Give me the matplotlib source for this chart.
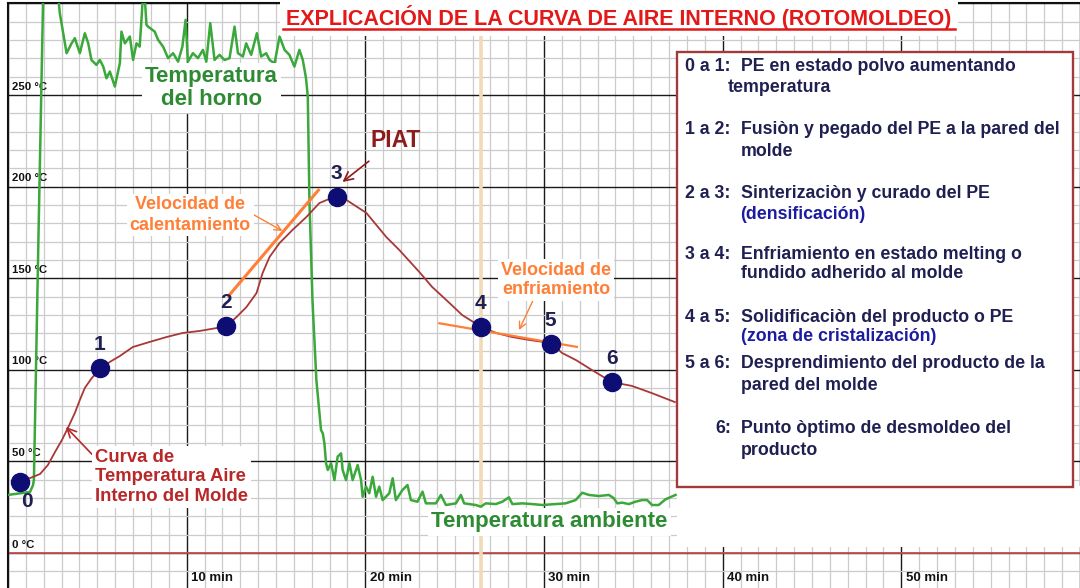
import matplotlib
matplotlib.use('Agg')
import matplotlib.pyplot as plt
import matplotlib.patches as patches
from matplotlib.lines import Line2D
import numpy as np

plt.rcParams['font.family'] = ['Liberation Sans', 'DejaVu Sans']
plt.rcParams['font.weight'] = 'bold'

# temperatura del horno (min, °C)
oven_min = [0.0, 1.23, 1.40, 1.45, 1.70, 1.98, 2.75, 2.90, 3.28, 3.56, 3.74, 4.02, 4.30, 4.49,
            4.67, 4.95, 5.14, 5.33, 5.51, 5.70, 5.98, 6.26, 6.35, 6.54, 6.82, 7.00, 7.19, 7.37,
            7.47, 7.60, 7.75, 7.84, 8.21, 8.40, 8.68, 8.96, 9.24, 9.52, 9.76, 9.94, 10.07, 10.35,
            10.63, 10.91, 11.10, 11.32, 11.56, 11.84, 12.12, 12.40, 12.68, 12.87, 13.15, 13.33,
            13.61, 13.93, 14.17, 14.45, 14.64, 14.92, 15.20, 15.48, 15.75, 16.03, 16.31, 16.50,
            16.68, 16.78, 16.87, 17.04, 17.26, 17.43, 17.52, 17.62, 17.71, 17.80, 17.90, 18.08,
            18.27, 18.45, 18.64, 18.73, 18.92, 19.11, 19.29, 19.57, 19.76, 19.85, 20.04, 20.22,
            20.41, 20.60, 20.78, 20.97, 21.34, 21.53, 21.71, 22.08, 22.36, 22.55, 22.92, 23.20,
            23.39, 23.95, 24.23, 24.51, 25.07, 25.35, 25.53, 26.18, 26.46, 26.74, 27.30, 27.67,
            28.04, 28.23, 28.79, 29.35, 29.91, 30.65, 31.21, 31.77, 32.14, 32.51, 33.07, 33.63,
            33.91, 34.10, 34.37, 34.75, 35.12, 35.49, 35.77, 36.05, 36.42, 36.80, 37.36]
oven_temp = [31.7, 33.3, 37.0, 40.0, 170.0, 310.0, 310.0, 294.6, 272.8, 278.2, 281.0, 272.8, 283.7,
             278.2, 269.1, 266.4, 269.1, 265.5, 259.1, 262.8, 254.6, 267.3, 284.6, 278.2, 281.9,
             269.1, 278.2, 276.4, 291.0, 312.0, 288.3, 287.3, 284.6, 280.1, 276.4, 270.1, 272.8,
             268.2, 276.4, 291.0, 268.2, 272.8, 270.1, 274.6, 268.2, 289.2, 269.1, 271.9, 269.1,
             270.1, 287.3, 272.8, 271.0, 278.2, 271.9, 283.7, 271.0, 272.8, 269.1, 267.3, 281.9,
             274.6, 271.9, 265.5, 274.6, 269.1, 259.1, 249.1, 192.7, 138.1, 94.4, 76.3, 67.1, 65.3,
             59.9, 49.0, 45.3, 49.0, 39.8, 52.6, 54.4, 45.3, 39.8, 49.0, 39.8, 48.0, 39.8, 30.7,
             36.2, 32.6, 41.6, 30.7, 36.2, 28.9, 32.6, 40.8, 28.9, 34.4, 37.1, 28.9, 28.0, 33.5,
             27.1, 27.1, 31.7, 26.2, 27.1, 31.7, 27.1, 26.2, 25.3, 27.1, 26.7, 28.0, 30.4, 26.7,
             27.1, 26.7, 26.2, 26.7, 27.1, 28.9, 32.9, 31.7, 31.1, 31.7, 29.9, 27.1, 27.5, 26.7,
             28.0, 28.9, 28.9, 26.2, 26.2, 29.3, 31.7]

# curva de temperatura del aire interno del molde
air_min = [0.61, 1.23, 1.79, 2.23, 2.63, 3.02, 3.35, 3.74, 4.02, 4.30, 4.69, 5.14, 5.70, 6.26,
           6.98, 7.93, 8.88, 9.78, 10.73, 11.68, 12.23, 12.79, 13.35, 13.91, 14.25, 14.64, 15.20,
           15.92, 16.70, 17.43, 18.38, 18.94, 20.06, 21.17, 21.90, 23.02, 23.74, 24.53, 25.42,
           26.48, 27.32, 28.21, 29.16, 30.39, 31.01, 31.79, 32.68, 33.80, 34.92, 36.03, 37.32]
air_temp = [39.3, 40.9, 43.1, 48.0, 55.1, 61.7, 68.2, 76.4, 83.5, 90.1, 95.5, 100.4, 104.3, 107.5,
            112.4, 115.2, 117.9, 120.1, 121.2, 122.8, 123.9, 128.8, 134.3, 141.9, 152.8, 161.6,
            169.2, 176.3, 183.4, 191.0, 194.9, 192.7, 185.6, 172.5, 165.4, 153.4, 145.2, 138.1,
            129.9, 123.4, 120.1, 117.9, 116.3, 114.6, 109.2, 105.3, 99.9, 93.3, 91.2, 87.3, 82.4]

# puntos 0 a 6
stage_min = [0.67, 5.14, 12.22, 18.40, 26.46, 30.37, 33.82]
stage_temp = [38.9, 101.0, 124.1, 194.2, 123.5, 114.1, 93.5]
stage_labels = ['0', '1', '2', '3', '4', '5', '6']

# rectas de velocidad de calentamiento y enfriamiento
heat_min = [12.29, 17.43]
heat_temp = [139.7, 198.7]
cool_min = [24.08, 31.90]
cool_temp = [125.5, 112.4]

ambient_min = 26.5
y_ticks = [0, 50, 100, 150, 200, 250]
x_ticks = [10, 20, 30, 40, 50]

steps = [
    ('0 a 1:', ['PE en estado polvo aumentando', 'temperatura']),
    ('1 a 2:', ['Fusiòn y pegado del PE a la pared del', 'molde']),
    ('2 a 3:', ['Sinterizaciòn y curado del PE', '(densificación)']),
    ('3 a 4:', ['Enfriamiento en estado melting o', 'fundido adherido al molde']),
    ('4 a 5:', ['Solidificaciòn del producto o PE', '(zona de cristalización)']),
    ('5 a 6:', ['Desprendimiento del producto de la', 'pared del molde']),
    ('6:', ['Punto òptimo de desmoldeo del', 'producto']),
]
step_y = [265.8, 230.9, 196.0, 163.2, 128.3, 103.2, 67.7]
step_gap = [11.8, 12.0, 11.0, 10.9, 9.9, 12.0, 12.0]

navy = '#1f1f52'
green_txt = '#2e8b34'
orange = '#ff7f36'
dark_red = '#8e1c1c'

fig = plt.figure(figsize=(10.8, 5.88), dpi=100)
ax = fig.add_axes([8 / 1080, 0, 1 - 8 / 1080, 1 - 3 / 588])
ax.set_xlim(0, 59.9)
ax.set_ylim(-19.1, 300.2)

ax.set_xticks(np.arange(0, 61, 10))
ax.set_xticks(np.arange(0, 61, 1), minor=True)
ax.set_yticks(np.arange(0, 301, 50))
ax.set_yticks(np.arange(-10, 301, 10), minor=True)
ax.tick_params(which='both', length=0, labelbottom=False, labelleft=False)
ax.grid(which='minor', color='#cbcbcb', lw=0.9)
ax.grid(which='major', color='#1a1a1a', lw=1.0)
ax.set_axisbelow(True)
for s in ['right', 'bottom']:
    ax.spines[s].set_visible(False)
for s in ['left', 'top']:
    ax.spines[s].set_linewidth(1.5)
    ax.spines[s].set_color('#111111')

ax.axhline(0, color='#c65050', lw=1.3, zorder=1.5)
ax.axvline(ambient_min, color='#f0dab8', lw=2.6, zorder=1.6)

for t in y_ticks:
    ax.annotate(f'{t} °C', (0, t), xytext=(3, 6), textcoords='offset points',
                fontsize=8.2, color='#111111', va='center', ha='left')
for m in x_ticks:
    ax.annotate(f'{m} min', (m, -19.1), xytext=(3, 7), textcoords='offset points',
                fontsize=9.5, color='#111111', va='center', ha='left')

ax.plot(oven_min, oven_temp, color='#3aa83a', lw=1.8, zorder=3)
ax.plot(air_min, air_temp, color='#a83838', lw=1.3, zorder=5)
ax.plot(heat_min, heat_temp, color=orange, lw=2.2, zorder=6, solid_capstyle='butt')
ax.plot(cool_min, cool_temp, color=orange, lw=1.6, zorder=6, solid_capstyle='butt')
ax.plot(stage_min, stage_temp, 'o', ms=13, color='#0d0d74', zorder=7)

for i, (m, t, lab) in enumerate(zip(stage_min, stage_temp, stage_labels)):
    off = (5, -14) if i == 0 else (0, 17)
    ax.annotate(lab, (m, t), xytext=off, textcoords='offset points', fontsize=15,
                color=navy, ha='center', va='center', zorder=7)

white = dict(boxstyle='square,pad=0.15', fc='white', ec='none')

ax.text(11.4, 253.8, 'Temperatura\ndel horno', fontsize=16, color=green_txt, ha='center',
        va='center', linespacing=1.12, bbox=white, zorder=4)
ax.text(30.3, 17.0, 'Temperatura ambiente', fontsize=16, color=green_txt, ha='center',
        va='center', bbox=white, zorder=4)

ax.annotate('Velocidad de\ncalentamiento', xy=(15.36, 175.8), xytext=(10.2, 184.5),
            fontsize=13, color=orange, ha='center', va='center', linespacing=1.25,
            bbox=white, zorder=6,
            arrowprops=dict(arrowstyle='->', color=orange, lw=1.0, mutation_scale=12,
                            shrinkA=0, shrinkB=0, relpos=(1.0, 0.55)))
ax.annotate('Velocidad de\nenfriamiento', xy=(28.6, 121.7), xytext=(30.67, 149.0),
            fontsize=13, color=orange, ha='center', va='center', linespacing=1.22,
            bbox=white, zorder=6,
            arrowprops=dict(arrowstyle='->', color=orange, lw=1.0, mutation_scale=12,
                            shrinkA=0, shrinkB=0, relpos=(0.3, 0.0)))
ax.annotate('PIAT', xy=(18.72, 202.5), xytext=(21.7, 225.4), fontsize=16.5, color=dark_red,
            ha='center', va='center', zorder=6,
            arrowprops=dict(arrowstyle='->', color=dark_red, lw=1.2, mutation_scale=16,
                            shrinkA=8, shrinkB=0))
ax.annotate('Curva de\nTemperatura Aire\nInterno del Molde', xy=(3.24, 68.8),
            xytext=(4.86, 41.5), fontsize=13.3, color='#b82828', ha='left', va='center',
            linespacing=1.2, bbox=white, zorder=6,
            arrowprops=dict(arrowstyle='->', color='#b82828', lw=1.2, mutation_scale=16,
                            shrinkA=0, shrinkB=0, relpos=(0.0, 0.85)))

# cuadro con las etapas
ax.add_patch(patches.Rectangle((37.43, 3.3), 23, 33, fc='white', ec='none', zorder=4))
ax.add_patch(patches.Rectangle((37.43, 36.0), 59.6 - 37.43, 273.5 - 36.0, fc='white',
                               ec='#a33a3a', lw=1.7, zorder=8))
for (pre, lines), y, gap in zip(steps, step_y, step_gap):
    px = 39.6 if pre == '6:' else 37.9
    ax.text(px, y, pre, fontsize=12.8, color=navy, va='center', ha='left', zorder=9)
    ax.text(41.0, y, lines[0], fontsize=12.8, color=navy, va='center', ha='left', zorder=9)
    c2 = '#1c1ca0' if lines[1].startswith('(') else navy
    x2 = 40.3 if lines[1] == 'temperatura' else 41.0
    ax.text(x2, y - gap, lines[1], fontsize=12.8, color=c2, va='center', ha='left', zorder=9)

fig.text(619 / 1080, 1 - 17 / 588, 'EXPLICACIÓN DE LA CURVA DE AIRE INTERNO (ROTOMOLDEO)',
         fontsize=15.5, color='#e31818', ha='center', va='center', zorder=3,
         bbox=dict(boxstyle='square,pad=0.3', fc='white', ec='none'))
fig.add_artist(Line2D([283 / 1080, 955 / 1080], [1 - 29 / 588] * 2, color='#e31818', lw=1.8,
                      zorder=5))

fig.savefig('out.png', dpi=100)
